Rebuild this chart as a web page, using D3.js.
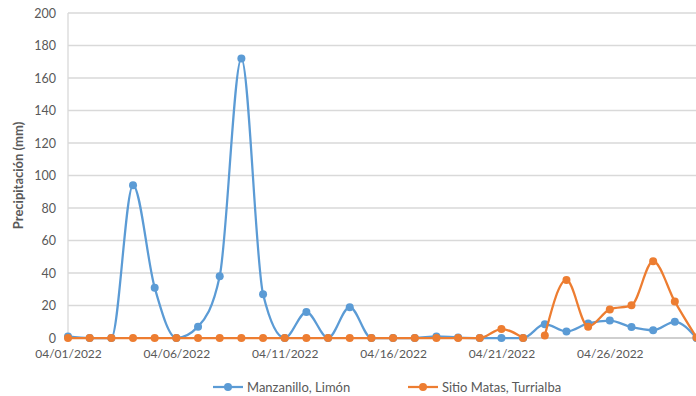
<!DOCTYPE html>
<html>
<head>
<meta charset="utf-8">
<script src="https://cdn.jsdelivr.net/npm/d3@7"></script>
<style>
  html, body { margin: 0; padding: 0; background: #fff; }
  svg { display: block; }
  text { font-family: Lato, "Open Sans", sans-serif; }
</style>
</head>
<body>
<div id="chart"></div>
<script>
// Daily rainfall, April 2022 (day of month 1..30)
const days = d3.range(1, 31);
const dateLabels = days.map(d => `04/${String(d).padStart(2, "0")}/2022`);
const tickDays = [1, 6, 11, 16, 21, 26];
const yTicks = d3.range(0, 201, 20);

const seriesNames = ["Manzanillo, Limón", "Sitio Matas, Turrialba"];
const manzanillo = [1, 0, 0, 94, 31, 0, 7, 38, 172, 27, 0, 16, 0, 19, 0,
                    0, 0, 1, 0.3, 0, 0, 0, 8.5, 4, 9, 10.7, 6.7, 4.8, 10, 0];
const sitioMatas = [0, 0, 0, 0, 0, 0, 0, 0, 0, 0, 0, 0, 0, 0, 0,
                    0, 0, 0, 0, 0, 5.5, 0, 1.6, 35.7, 7, 17.6, 20.1, 47.3, 22.4, 0.3];
// the Sitio Matas line is broken between day 22 and day 23
const sitioMatasBreakAfter = 22;

const colors = ["#5B9BD5", "#ED7D31"];

const W = 696, H = 396;
const svg = d3.select("#chart").append("svg").attr("width", W).attr("height", H);

const x = d3.scaleLinear().domain([1, 30]).range([68, 696.5]);
const y = d3.scaleLinear().domain([0, 200]).range([338, 13]);

// horizontal gridlines
svg.append("g").selectAll("line").data(yTicks.filter(t => t > 0)).join("line")
  .attr("x1", 68).attr("x2", W)
  .attr("y1", d => y(d)).attr("y2", d => y(d))
  .attr("stroke", "#d9d9d9").attr("stroke-width", 1.3);

// vertical axis line
svg.append("line").attr("x1", 68).attr("x2", 68).attr("y1", y(200)).attr("y2", y(0))
  .attr("stroke", "#d9d9d9").attr("stroke-width", 1.3);

// y axis labels
const yAxis = d3.axisLeft(y).tickValues(yTicks).tickSize(0).tickPadding(12);
const gy = svg.append("g").attr("transform", "translate(68,0)").call(yAxis);
gy.select(".domain").remove();
gy.selectAll("text").attr("font-size", 12.5).attr("fill", "#595959")
  .style("font-family", "Lato, 'Open Sans', sans-serif");

// x axis
const xAxis = d3.axisBottom(x).tickValues(tickDays)
  .tickFormat(d => dateLabels[d - 1]).tickSize(0).tickPadding(11);
const gx = svg.append("g").attr("transform", `translate(0,${y(0)})`).call(xAxis);
gx.select(".domain").attr("stroke", "#bfbfbf").attr("stroke-width", 1.3)
  .attr("d", `M68,0H${W}`);
gx.selectAll("text").attr("font-size", 12).attr("fill", "#595959")
  .style("font-family", "Lato, 'Open Sans', sans-serif");

// y axis title
svg.append("text")
  .attr("transform", `translate(23,${(y(0) + y(200)) / 2}) rotate(-90)`)
  .attr("text-anchor", "middle")
  .attr("font-size", 13).attr("font-weight", "bold").attr("fill", "#595959")
  .text("Precipitación (mm)");

const line = d3.line()
  .x(d => x(d.day)).y(d => y(d.v))
  .curve(d3.curveMonotoneX);

const toPts = vals => vals.map((v, i) => ({ day: days[i], v }));
const blue = toPts(manzanillo);
const orange = toPts(sitioMatas);

const lines = svg.append("g");
lines.append("path").datum(blue).attr("d", line)
  .attr("fill", "none").attr("stroke", colors[0]).attr("stroke-width", 2.25);
lines.selectAll("circle.b").data(blue).join("circle").attr("class", "b")
  .attr("cx", d => x(d.day)).attr("cy", d => y(d.v)).attr("r", 4)
  .attr("fill", colors[0]);

const orangeParts = [orange.slice(0, sitioMatasBreakAfter), orange.slice(sitioMatasBreakAfter)];
orangeParts.forEach(part => {
  lines.append("path").datum(part).attr("d", line)
    .attr("fill", "none").attr("stroke", colors[1]).attr("stroke-width", 2.25);
});
lines.selectAll("circle.o").data(orange).join("circle").attr("class", "o")
  .attr("cx", d => x(d.day)).attr("cy", d => y(d.v)).attr("r", 4)
  .attr("fill", colors[1]);

// legend
const legendX = [213, 408];
const legend = svg.append("g");
seriesNames.forEach((name, i) => {
  const g = legend.append("g").attr("transform", `translate(${legendX[i]},387)`);
  g.append("line").attr("x1", 0).attr("x2", 30).attr("stroke", colors[i]).attr("stroke-width", 2.25);
  g.append("circle").attr("cx", 15).attr("r", 4).attr("fill", colors[i]);
  g.append("text").attr("x", 34).attr("dy", "0.35em").attr("font-size", 13)
    .attr("fill", "#595959").text(name);
});
</script>
</body>
</html>
